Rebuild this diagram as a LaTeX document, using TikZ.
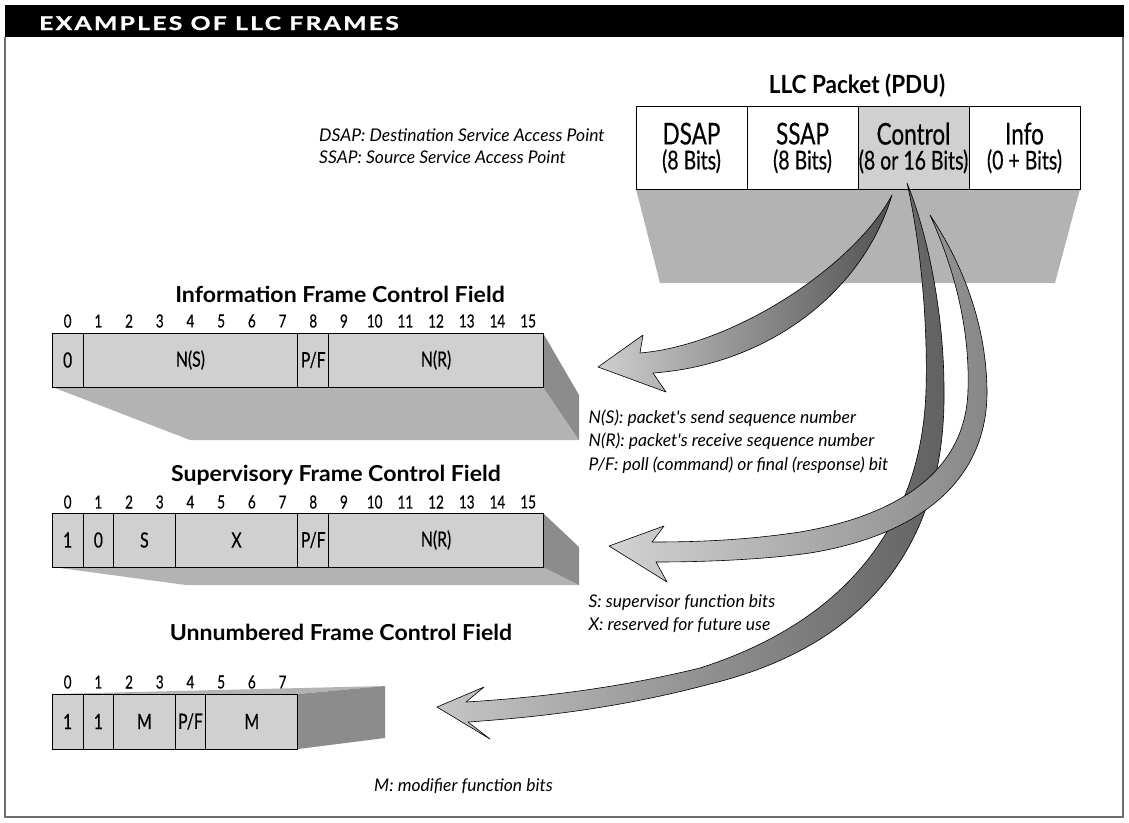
\documentclass[tikz,border=0pt]{standalone}
\usepackage{fontspec}
\setmainfont{Lato}
\newfontfamily\condfont{Lato}[FakeStretch=0.75,FakeBold=0.4]
\newfontfamily\titlefont{Lato}[FakeStretch=0.9]
\newfontfamily\frametitlefont{Lato}[FakeStretch=1.05]
\newfontfamily\headfont{Lato}[FakeStretch=1.3,FakeBold=1.2,LetterSpace=12]
\usetikzlibrary{positioning}

\definecolor{fieldgray}{HTML}{D0D0D0}
\definecolor{floorgray}{HTML}{B3B3B3}
\definecolor{sidegray}{HTML}{8C8C8C}
\definecolor{framegray}{HTML}{6E6E6E}

\tikzset{
  fieldcell/.style={draw, line width=0.9pt, fill=fieldgray, minimum height=54pt,
    inner sep=0pt, outer sep=0pt, font=\condfont\fontsize{21}{21}\selectfont},
  bits/.style={minimum width=#1*30.7pt},
  pcell/.style={draw, line width=0.9pt, fill=white, minimum width=111pt, minimum height=82.5pt,
    inner sep=0pt, outer sep=0pt, align=center, font=\condfont\fontsize{26}{25}\selectfont},
  bitno/.style={inner sep=0pt, font=\condfont\fontsize{18}{18}\selectfont},
  ftitle/.style={anchor=base, inner sep=0pt, font=\frametitlefont\bfseries\fontsize{22}{22}\selectfont},
  note/.style={anchor=base west, inner sep=0pt, font=\itshape\fontsize{17.5}{17.5}\selectfont},
  floorface/.style={fill=floorgray},
  sideface/.style={fill=sidegray},
  bigarrow/.style={draw=black, line width=0.6pt, line join=round},
}
\newcommand{\pfield}[2]{{\fontsize{30}{25}\selectfont #1}\\#2}

\begin{document}
\begin{tikzpicture}[x=1pt,y=-1pt]
  \useasboundingbox (0,0) rectangle (1129,822);
  \fill[white] (0,0) rectangle (1129,822);

  % heading band and frame
  \fill[black] (5,5) rectangle (1124,37);
  \node[anchor=base west, inner sep=0pt, text=white, font=\headfont\bfseries\fontsize{19}{19}\selectfont]
    (heading) at (39,30) {EXAMPLES OF LLC FRAMES};
  \draw[framegray, line width=2pt] (5,37) -- (5,817) -- (1123,817) -- (1123,37);

  % LLC packet
  \fill[floorgray] (636,189) -- (1080,189) -- (1055,283) -- (660,283) -- cycle;
  \node[anchor=base, inner sep=0pt, font=\titlefont\bfseries\fontsize{25}{25}\selectfont]
    (pdutitle) at (857,93) {LLC Packet (PDU)};
  \node[pcell, anchor=north west] (dsap) at (636,106.7) {\pfield{DSAP}{(8 Bits)}};
  \node[pcell, right=0pt of dsap] (ssap) {\pfield{SSAP}{(8 Bits)}};
  \node[pcell, fill=fieldgray, right=0pt of ssap] (ctrl) {\pfield{Control}{(8 or 16 Bits)}};
  \node[pcell, right=0pt of ctrl] (info) {\pfield{Info}{(0 + Bits)}};

  \node[note] (dsapnote) at (319,141.7) {DSAP: Destination Service Access Point};
  \node[note] (ssapnote) at (319,163.3) {SSAP: Source Service Access Point};

  % information frame
  \fill[floorface] (52.3,387) -- (543,387) -- (579,440) -- (190,440) -- cycle;
  \fill[sideface] (543,333) -- (579,395) -- (579,440) -- (543,387) -- cycle;
  \node[ftitle] (ititle) at (340,302) {Information Frame Control Field};
  \foreach \b in {0,...,15}
    \node[bitno] (ib\b) at ({52.3+30.7*(\b+0.5)},321) {\b};
  \node[fieldcell, bits=1, anchor=north west] (if0) at (52.3,333) {0};
  \node[fieldcell, bits=7, right=0pt of if0] (ifns) {N(S)};
  \node[fieldcell, bits=1, right=0pt of ifns] (ifpf) {P/F};
  \node[fieldcell, bits=7, right=0pt of ifpf] (ifnr) {N(R)};

  \node[note] (nsnote) at (588.5,423.3) {N(S): packet\textquotesingle s send sequence number};
  \node[note] (nrnote) at (588.5,446.7) {N(R): packet\textquotesingle s receive sequence number};
  \node[note] (pfnote) at (588.5,470) {P/F: poll (command) or final (response) bit};

  % supervisory frame
  \fill[floorface] (52.3,567) -- (543,567) -- (579,585) -- (186,585) -- cycle;
  \fill[sideface] (543,513) -- (579,547) -- (579,585) -- (543,567) -- cycle;
  \node[ftitle] (stitle) at (336,481.7) {Supervisory Frame Control Field};
  \foreach \b in {0,...,15}
    \node[bitno] (sb\b) at ({52.3+30.7*(\b+0.5)},502) {\b};
  \node[fieldcell, bits=1, anchor=north west] (sf1) at (52.3,513) {1};
  \node[fieldcell, bits=1, right=0pt of sf1] (sf0) {0};
  \node[fieldcell, bits=2, right=0pt of sf0] (sfs) {S};
  \node[fieldcell, bits=4, right=0pt of sfs] (sfx) {X};
  \node[fieldcell, bits=1, right=0pt of sfx] (sfpf) {P/F};
  \node[fieldcell, bits=7, right=0pt of sfpf] (sfnr) {N(R)};

  \node[note] (snote) at (588.3,607.3) {S: supervisor function bits};
  \node[note] (xnote) at (588.3,630) {X: reserved for future use};

  % unnumbered frame
  \fill[floorface] (52.3,694) -- (298,694) -- (385,686) -- cycle;
  \fill[sideface] (298,694) -- (385,686) -- (385,738) -- (298,749) -- cycle;
  \node[ftitle] (utitle) at (341,640) {Unnumbered Frame Control Field};
  \foreach \b in {0,...,7}
    \node[bitno] (ub\b) at ({52.3+30.7*(\b+0.5)},682) {\b};
  \node[fieldcell, bits=1, minimum height=55pt, anchor=north west] (uf1) at (52.3,694) {1};
  \node[fieldcell, bits=1, minimum height=55pt, right=0pt of uf1] (uf1b) {1};
  \node[fieldcell, bits=2, minimum height=55pt, right=0pt of uf1b] (ufm) {M};
  \node[fieldcell, bits=1, minimum height=55pt, right=0pt of ufm] (ufpf) {P/F};
  \node[fieldcell, bits=3, minimum height=55pt, right=0pt of ufpf] (ufmb) {M};

  \node[note] (mnote) at (374,791.7) {M: modifier function bits};

  % arrows out of the control field
  \coordinate (ctrla) at (892,195);
  \coordinate (ctrlb) at (907,183);
  \coordinate (ctrlc) at (930,215);
  \coordinate (itip) at (598,367);
  \coordinate (stip) at (609,546);
  \coordinate (utip) at (437,707);

  \draw[bigarrow, left color=gray!45, right color=black!62]
    (ctrlb) .. controls (920,240) and (928,320) .. (926,390)
    .. controls (922,520) and (850,620) .. (700,668)
    .. controls (610,690) and (530,698) .. (466,702)
    -- (484,687) -- (utip) -- (490,739) -- (468,722)
    .. controls (540,717) and (620,708) .. (710,684)
    .. controls (870,645) and (946,540) .. (944,390)
    .. controls (944,320) and (930,240) .. (ctrlb) -- cycle;
  \draw[bigarrow, left color=gray!35, right color=black!47]
    (ctrlc) .. controls (955,270) and (970,330) .. (968,390)
    .. controls (966,470) and (900,515) .. (800,532)
    .. controls (740,541) and (690,542) .. (652,542)
    -- (664,526) -- (stip) -- (667,582) -- (656,562)
    .. controls (700,562) and (760,560) .. (810,553)
    .. controls (920,535) and (988,480) .. (987,390)
    .. controls (986,320) and (960,260) .. (ctrlc) -- cycle;
  \draw[bigarrow, left color=gray!38, right color=black!68]
    (ctrla) .. controls (855,265) and (735,345) .. (640,353)
    -- (643,335) -- (itip) -- (666,392) -- (653,373)
    .. controls (765,365) and (862,295) .. (ctrla) -- cycle;
\end{tikzpicture}
\end{document}
